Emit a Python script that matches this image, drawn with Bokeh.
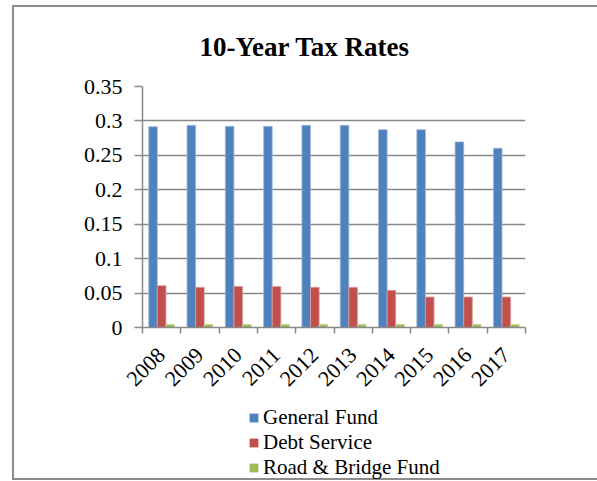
from bokeh.plotting import figure
from bokeh.models import (ColumnDataSource, Range1d, FixedTicker, NumeralTickFormatter,
                          Legend, LegendItem)
from bokeh.layouts import column
from bokeh.transform import dodge
from bokeh.embed import file_html
from bokeh.resources import INLINE
import math

years = ["2008", "2009", "2010", "2011", "2012", "2013", "2014", "2015", "2016", "2017"]
general_fund = [0.2916, 0.2936, 0.2921, 0.2921, 0.2936, 0.2936, 0.2873, 0.2873, 0.2695, 0.2603]
debt_service = [0.0607, 0.0583, 0.0597, 0.0597, 0.0583, 0.0583, 0.0540, 0.0443, 0.0443, 0.0443]
road_bridge = [0.0045, 0.0045, 0.0045, 0.0045, 0.0045, 0.0045, 0.0045, 0.0045, 0.0045, 0.0045]
series_names = ["General Fund", "Debt Service", "Road & Bridge Fund"]
series_colors = ["#4F81BD", "#C0504D", "#9BBB59"]
edge_colors = ["#9DB9DB", "#DE9E9C", "#C6DA9E"]
y_ticks = [0, 0.05, 0.1, 0.15, 0.2, 0.25, 0.3, 0.35]

FONT = "Liberation Serif"
GRID = "#888888"

xs = [i + 0.5 for i in range(len(years))]
src = ColumnDataSource(dict(x=xs, gf=general_fund, ds=debt_service, rb=road_bridge))

W = 597
H_MAIN, H_LEG = 395, 86
p = figure(width=W, height=H_MAIN, output_backend="svg", toolbar_location=None,
           x_range=Range1d(0, len(years)), y_range=Range1d(0, 0.35),
           min_border_left=142, min_border_right=72, min_border_top=86, min_border_bottom=67)
p.outline_line_color = None
p.background_fill_color = "white"
p.border_fill_alpha = 0

p.title.text = "10-Year Tax Rates"
p.title.text_font = FONT
p.title.text_font_size = "27px"
p.title.text_font_style = "bold"
p.title.text_color = "black"
p.title.align = "left"
p.title.offset = 57
p.title.standoff = 50

bw = 0.225
cols = ["gf", "ds", "rb"]
offsets = [-bw, 0, bw]
for c, off, fc, lc in zip(cols, offsets, series_colors, edge_colors):
    p.vbar(x=dodge("x", off, range=p.x_range), top=c, width=bw, source=src,
           fill_color=fc, line_color=lc, line_width=0.8)

# x axis: labels at category centres, ticks at category boundaries
xax = p.xaxis[0]
xax.ticker = FixedTicker(ticks=xs, minor_ticks=list(range(len(years) + 1)))
xax.major_label_overrides = {x: y for x, y in zip(xs, years)}
xax.major_tick_line_color = None
xax.major_tick_out = 6
xax.minor_tick_out = 6
xax.minor_tick_in = 0
xax.minor_tick_line_color = GRID
xax.minor_tick_line_width = 1.5
xax.axis_line_color = GRID
xax.axis_line_width = 1.5
xax.major_label_orientation = math.pi / 4
xax.major_label_text_font = FONT
xax.major_label_text_font_size = "22px"
xax.major_label_text_color = "black"
xax.major_label_standoff = 18

yax = p.yaxis[0]
yax.ticker = FixedTicker(ticks=y_ticks)
yax.formatter = NumeralTickFormatter(format="0.[00]")
yax.major_tick_out = 8
yax.major_tick_in = 0
yax.minor_tick_line_color = None
yax.major_tick_line_color = GRID
yax.major_tick_line_width = 1.5
yax.axis_line_color = GRID
yax.axis_line_width = 1.5
yax.major_label_text_font = FONT
yax.major_label_text_font_size = "22px"
yax.major_label_text_color = "black"
yax.major_label_standoff = 12

p.xgrid.visible = False
p.ygrid.ticker = FixedTicker(ticks=y_ticks)
p.ygrid.grid_line_color = GRID
p.ygrid.grid_line_width = 1.5

# legend strip below the chart (its frame is aligned with the chart's frame)
lg = figure(width=W, height=H_LEG, output_backend="svg", toolbar_location=None,
            x_range=Range1d(0, 1), y_range=Range1d(0, 1),
            x_axis_location=None, y_axis_location=None,
            min_border_left=0, min_border_right=0, min_border_top=0, min_border_bottom=0)
lg.outline_line_color = None
lg.background_fill_alpha = 0
lg.border_fill_alpha = 0
lg.xgrid.visible = False
lg.ygrid.visible = False
# zero-height proxy bars: only their legend swatches are visible
proxy = ColumnDataSource(dict(x=[0.0], top=[0.0]))
items = []
for name, fc in zip(series_names, series_colors):
    r = lg.vbar(x="x", top="top", width=0.01, source=proxy, fill_color=fc, line_color=None)
    items.append(LegendItem(label=name, renderers=[r]))
legend = Legend(items=items, orientation="vertical", location=(106, 1),
                label_text_font=FONT, label_text_font_size="21px", label_text_color="black",
                glyph_width=11, glyph_height=11, label_standoff=4, spacing=0,
                padding=0, margin=0, border_line_color=None, background_fill_alpha=0)
try:
    legend.spacing = -2
except Exception:
    pass
lg.add_layout(legend, "center")

g = "linear-gradient(#8c8c8c, #8c8c8c)"
layout = column(p, lg, spacing=0, styles={
    "background-color": "white",
    "background-image": f"{g}, {g}, {g}",
    "background-size": "2px 475px, 600px 2px, 600px 2px",
    "background-position": "12px 5px, 12px 5px, 12px 478px",
    "background-repeat": "no-repeat",
})

open("out.html", "w").write(file_html(layout, INLINE))
